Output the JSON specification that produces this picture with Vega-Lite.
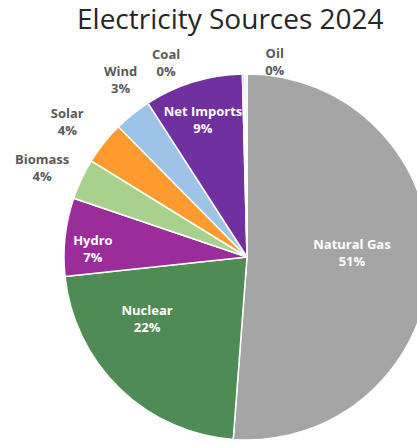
{
  "$schema": "https://vega.github.io/schema/vega-lite/v6.json",
  "width": 494,
  "height": 434,
  "autosize": {"type": "none"},
  "padding": {"top": 40, "left": 0, "right": 0, "bottom": 0},
  "background": "white",
  "title": {"text": "Electricity Sources 2024", "anchor": "start", "frame": "group", "dx": 77, "offset": 5, "fontSize": 28, "font": "Open Sans", "fontWeight": "normal", "color": "#262626"},
  "data": {"values": [
    {"source": "Natural Gas", "share": 0.512},
    {"source": "Nuclear", "share": 0.221},
    {"source": "Hydro", "share": 0.069},
    {"source": "Biomass", "share": 0.036},
    {"source": "Solar", "share": 0.038},
    {"source": "Wind", "share": 0.033},
    {"source": "Net Imports", "share": 0.087},
    {"source": "Coal", "share": 0.002},
    {"source": "Oil", "share": 0.002}
  ]},
  "transform": [{"window": [{"op": "row_number", "as": "rank"}]}],
  "encoding": {
    "theta": {"field": "share", "type": "quantitative", "stack": true},
    "order": {"field": "rank", "type": "quantitative"}
  },
  "layer": [
    {
      "mark": {"type": "arc", "outerRadius": 183, "stroke": "white", "strokeWidth": 1.5},
      "encoding": {
        "color": {"field": "source", "type": "nominal", "legend": null,
          "scale": {"domain": ["Natural Gas", "Nuclear", "Hydro", "Biomass", "Solar", "Wind", "Net Imports", "Coal", "Oil"],
                    "range": ["#A5A5A5", "#4F8B55", "#9B2D9A", "#A9D18E", "#FF9A2E", "#9DC3E6", "#7030A0", "#E8C8D8", "#D9D9D9"]}}
      }
    },
    {
      "mark": {"type": "text", "font": "Open Sans", "fontWeight": "bold", "fontSize": 13,
        "radius": {"expr": "datum.source == 'Natural Gas' ? 105 : datum.source == 'Nuclear' ? 112 : datum.source == 'Hydro' ? 152 : datum.source == 'Net Imports' ? 143 : datum.source == 'Wind' ? 218 : datum.source == 'Coal' ? 205 : datum.source == 'Oil' ? 200 : 222"},
        "dx": {"expr": "datum.source == 'Coal' ? -77 : datum.source == 'Oil' ? 29 : datum.source == 'Nuclear' ? -22 : datum.source == 'Hydro' ? -3 : datum.source == 'Biomass' ? -4 : datum.source == 'Solar' ? -6 : datum.source == 'Wind' ? 10 : datum.source == 'Net Imports' ? -2 : 0"},
        "dy": {"expr": "(datum.source == 'Coal' ? 11 : datum.source == 'Oil' ? 5 : datum.source == 'Nuclear' ? -18 : datum.source == 'Hydro' ? 9 : datum.source == 'Natural Gas' ? -7 : datum.source == 'Biomass' ? 6 : datum.source == 'Solar' ? 4 : datum.source == 'Wind' ? -6 : 0) - 8.5"}},
      "encoding": {
        "text": {"field": "source", "type": "nominal"},
        "color": {"condition": {"test": "indexof(['Natural Gas','Nuclear','Hydro','Net Imports'], datum.source) >= 0", "value": "white"}, "value": "#595959"}
      }
    },
    {
      "mark": {"type": "text", "font": "Open Sans", "fontWeight": "bold", "fontSize": 13,
        "radius": {"expr": "datum.source == 'Natural Gas' ? 105 : datum.source == 'Nuclear' ? 112 : datum.source == 'Hydro' ? 152 : datum.source == 'Net Imports' ? 143 : datum.source == 'Wind' ? 218 : datum.source == 'Coal' ? 205 : datum.source == 'Oil' ? 200 : 222"},
        "dx": {"expr": "datum.source == 'Coal' ? -77 : datum.source == 'Oil' ? 29 : datum.source == 'Nuclear' ? -22 : datum.source == 'Hydro' ? -3 : datum.source == 'Biomass' ? -4 : datum.source == 'Solar' ? -6 : datum.source == 'Wind' ? 10 : datum.source == 'Net Imports' ? -2 : 0"},
        "dy": {"expr": "(datum.source == 'Coal' ? 11 : datum.source == 'Oil' ? 5 : datum.source == 'Nuclear' ? -18 : datum.source == 'Hydro' ? 9 : datum.source == 'Natural Gas' ? -7 : datum.source == 'Biomass' ? 6 : datum.source == 'Solar' ? 4 : datum.source == 'Wind' ? -6 : 0) + 8.5"}},
      "encoding": {
        "text": {"field": "share", "type": "quantitative", "format": ".0%"},
        "color": {"condition": {"test": "indexof(['Natural Gas','Nuclear','Hydro','Net Imports'], datum.source) >= 0", "value": "white"}, "value": "#595959"}
      }
    }
  ]
}
